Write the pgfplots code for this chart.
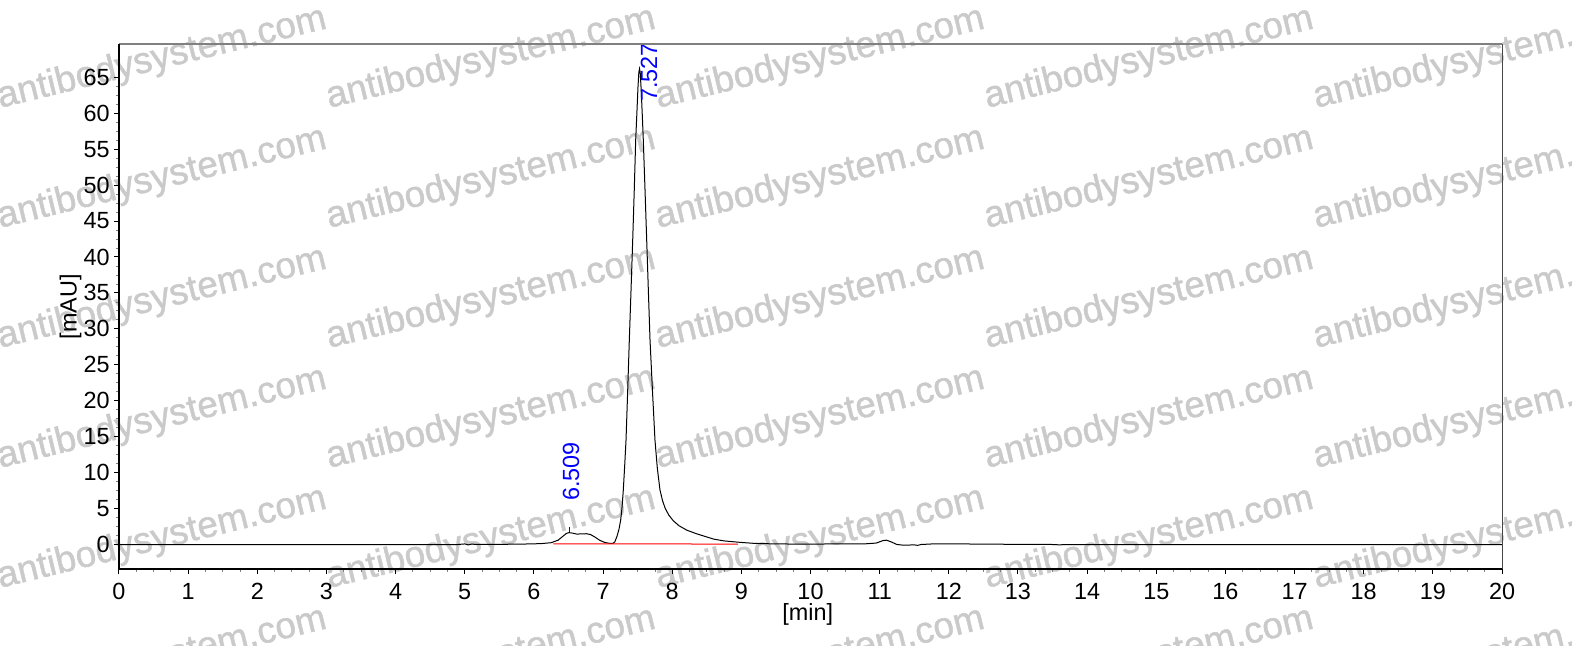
\documentclass[border=0pt]{standalone}
\usepackage{pgfplots}
\pgfplotsset{compat=1.18}
\usepackage{fontspec}
\setmainfont{Liberation Sans}
\newfontfamily\wmfont{Liberation Sans}[FakeBold=1.2]
\definecolor{wm}{RGB}{202,202,202}
\definecolor{topgray}{RGB}{128,128,128}
\definecolor{rightgray}{RGB}{70,70,70}
\pgfplotstableread{
t v
0 0
2 0
4.9 0
5.0 0.08
5.05 -0.05
5.1 0.05
5.2 0
5.8 0.05
6.1 0.12
6.25 0.25
6.35 0.6
6.42 1.15
6.47 1.55
6.509 1.65
6.56 1.58
6.62 1.45
6.7 1.48
6.76 1.5
6.82 1.38
6.88 1.05
6.95 0.6
7.02 0.3
7.08 0.18
7.14 0.15
7.17 0.35
7.2 1.1
7.23 2.1
7.255 3.4
7.275 5.2
7.293 7.6
7.312 10.8
7.332 14.5
7.356 21.3
7.38 28.5
7.405 35.5
7.429 42.4
7.452 49.5
7.472 56.3
7.49 60.2
7.505 63.6
7.517 65.6
7.527 66.2
7.537 65.7
7.55 63.5
7.565 60.3
7.582 56.3
7.607 49.3
7.631 42.4
7.655 35.4
7.679 28.5
7.715 21.3
7.751 14.5
7.785 10.6
7.823 7.6
7.86 6.1
7.896 5.1
7.95 4.1
8.016 3.3
8.1 2.6
8.21 2.0
8.35 1.5
8.5 1.05
8.6 0.75
8.75 0.5
8.98 0.3
9.2 0.15
9.5 0.08
10.0 0.05
10.5 0.1
10.8 0.1
10.95 0.2
11.05 0.55
11.1 0.6
11.17 0.35
11.25 0.0
11.35 -0.1
11.5 -0.05
11.55 -0.12
11.6 0.0
11.8 0.1
12.0 0.1
12.5 0.05
13.5 0.0
13.6 -0.05
13.7 0.0
14 0
20 0
}\chrom
\begin{document}
\begin{tikzpicture}
\begin{scope}
\clip (-59.5pt,-38pt) rectangle (726.5pt,284.5pt);
\foreach \c in {0,...,4}{
  \foreach \r in {0,...,5}{
    \node[rotate=13.7, anchor=base west, inner sep=0pt, text=wm,
          font=\wmfont\fontsize{18.5}{20}\selectfont]
      at ({(329*\c-119)*0.5pt}, {(569-108-120*\r)*0.5pt}) {antibodysystem.com};
  }
}
\end{scope}
\begin{axis}[
  at={(0pt,0pt)}, anchor=south west,
  scale only axis, width=691.5pt, height=262.5pt,
  xmin=0, xmax=20, ymin=-3.41, ymax=69.63,
  xtick={0,1,...,20}, ytick={0,5,...,65},
  minor x tick num=3, minor y tick num=3,
  xtick pos=lower, ytick pos=left,
  tick align=outside,
  major tick length=2.5pt, minor tick length=1.5pt,
  major tick style={black, line width=0.5pt},
  minor tick style={gray, line width=0.4pt},
  axis line style={draw=none},
  /pgf/number format/assume math mode=true,
  ticklabel style={font=\fontsize{11.7}{13}\selectfont},
  xticklabel style={inner sep=4.5pt},
  yticklabel style={inner sep=2pt},
  xlabel={[min]}, ylabel={[mAU]},
  label style={font=\fontsize{11.7}{13}\selectfont},
  xlabel style={at={(axis description cs:0.498,-0.086)}, anchor=center},
  ylabel style={at={(axis description cs:-0.035,0.5)}, anchor=center, rotate=0},
  clip=false,
]
\addplot[black, line width=0.5pt] table[x=t, y=v] {\chrom};
\addplot[red, line width=0.5pt] coordinates {(6.28,0.1) (8.95,0.06)};
\addplot[blue, line width=0.5pt] coordinates {(6.509,1.7) (6.509,2.4)};
\node[rotate=90, anchor=west, inner sep=0pt, text=blue, font=\fontsize{11.7}{13}\selectfont] at (axis cs:6.536,6.0) {6.509};
\node[rotate=90, anchor=west, inner sep=0pt, text=blue, font=\fontsize{11.7}{13}\selectfont] at (axis cs:7.664,61.56) {7.527};
\draw[topgray, line width=1pt] (rel axis cs:0,1) -- (rel axis cs:1,1);
\draw[rightgray, line width=0.5pt] (rel axis cs:1,0) -- (rel axis cs:1,1);
\draw[black, line width=0.75pt] (rel axis cs:0,0) -- (rel axis cs:0,1);
\draw[black, line width=1pt] (rel axis cs:0,0) -- (rel axis cs:1,0);
\end{axis}
\pgfresetboundingbox
\path[use as bounding box] (-59.5pt,-38pt) rectangle (726.5pt,284.5pt);
\end{tikzpicture}
\end{document}
